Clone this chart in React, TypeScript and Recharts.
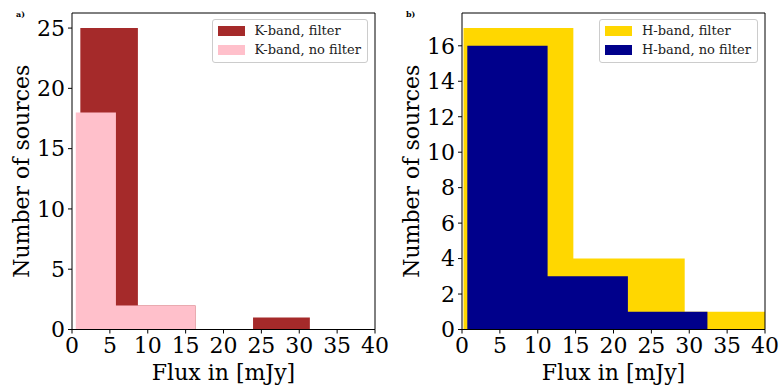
import React from 'react';
import { Area, ComposedChart, Legend, ReferenceLine, XAxis, YAxis } from 'recharts';

// bin edges + counts
const kFilterEdges = [1.1, 8.7, 16.3, 23.9, 31.4];
const kFilterCounts = [25, 2, 0, 1];
const kNoFilterEdges = [0.5, 5.8, 11.1, 16.3];
const kNoFilterCounts = [18, 2, 2];

const hFilterEdges = [0.2, 14.7, 29.4, 44.1];
const hFilterCounts = [17, 4, 1];
const hNoFilterEdges = [0.7, 11.3, 21.9, 32.4];
const hNoFilterCounts = [16, 3, 1];

const xTicks = [0, 5, 10, 15, 20, 25, 30, 35, 40];
const kYTicks = [0, 5, 10, 15, 20, 25];
const hYTicks = [0, 2, 4, 6, 8, 10, 12, 14, 16];

const FONT = '"DejaVu Serif", serif';

type Hist = { key: string; name: string; color: string; edges: number[]; counts: number[] };

const panelA: Hist[] = [
  { key: 'kf', name: 'K-band, filter', color: '#a52a2a', edges: kFilterEdges, counts: kFilterCounts },
  { key: 'kn', name: 'K-band, no filter', color: '#ffc0cb', edges: kNoFilterEdges, counts: kNoFilterCounts },
];
const panelB: Hist[] = [
  { key: 'hf', name: 'H-band, filter', color: '#ffd700', edges: hFilterEdges, counts: hFilterCounts },
  { key: 'hn', name: 'H-band, no filter', color: '#00008b', edges: hNoFilterEdges, counts: hNoFilterCounts },
];

// value of the step function at x
function stepAt(h: Hist, x: number) {
  for (let i = 0; i < h.counts.length; i++) {
    if (x >= h.edges[i] && x < h.edges[i + 1]) return h.counts[i];
  }
  return 0;
}

function buildRows(series: Hist[]) {
  const xs = Array.from(new Set(series.flatMap((s) => s.edges))).sort((a, b) => a - b);
  return xs.map((x) => {
    const row: Record<string, number> = { x };
    series.forEach((s) => (row[s.key] = stepAt(s, x)));
    return row;
  });
}

function LegendBox({ series }: { series: Hist[] }) {
  return (
    <div
      style={{
        background: 'rgba(255,255,255,0.8)',
        border: '1px solid #cccccc',
        borderRadius: 3,
        padding: '1px 6px 3px 5px',
        fontFamily: FONT,
        fontSize: 13,
        color: '#222',
      }}
    >
      {series.map((s) => (
        <div key={s.key} style={{ display: 'flex', alignItems: 'center', height: 19 }}>
          <span style={{ width: 27, height: 10, background: s.color, marginRight: 10 }} />
          <span style={{ whiteSpace: 'nowrap' }}>{s.name}</span>
        </div>
      ))}
    </div>
  );
}

function YLabel(props: any) {
  const vb = props.viewBox;
  const cx = vb.x + 21;
  const cy = vb.y + vb.height / 2;
  return (
    <text
      x={cx}
      y={cy}
      transform={`rotate(-90, ${cx}, ${cy})`}
      textAnchor="middle"
      dominantBaseline="central"
      fontFamily={FONT}
      fontSize={22}
      fill="#000"
    >
      Number of sources
    </text>
  );
}

function Panel({
  series,
  yMax,
  yTicks,
  tag,
  left,
}: {
  series: Hist[];
  yMax: number;
  yTicks: number[];
  tag: string;
  left: number;
}) {
  const rows = buildRows(series);
  const tick = { fontFamily: FONT, fontSize: 22, fill: '#000' };
  return (
    <div style={{ position: 'absolute', left, top: 0, width: 390, height: 385 }}>
      <div
        style={{
          position: 'absolute',
          left: 16,
          top: 9,
          fontFamily: FONT,
          fontSize: 8,
          fontWeight: 'bold',
        }}
      >
        {tag}
      </div>
      <ComposedChart width={390} height={385} data={rows} margin={{ top: 13, right: 15, left: 0, bottom: 0 }}>
        <XAxis
          dataKey="x"
          type="number"
          domain={[0, 40]}
          ticks={xTicks}
          allowDataOverflow
          height={55.5}
          stroke="#000"
          tickSize={4}
          tickMargin={4}
          tick={tick}
          label={{
            value: 'Flux in [mJy]',
            position: 'insideBottom',
            offset: 5,
            fontFamily: FONT,
            fontSize: 22,
            fill: '#000',
          }}
        />
        <YAxis
          type="number"
          domain={[0, yMax]}
          ticks={yTicks}
          allowDataOverflow
          width={72}
          stroke="#000"
          tickSize={4}
          tickMargin={3}
          tick={tick}
          label={<YLabel />}
        />
        {series.map((s) => (
          <Area
            key={s.key}
            dataKey={s.key}
            name={s.name}
            type="stepAfter"
            stroke="none"
            fill={s.color}
            fillOpacity={1}
            isAnimationActive={false}
          />
        ))}
        <ReferenceLine y={yMax} stroke="#000" />
        <ReferenceLine x={40} stroke="#000" />
        <Legend
          layout="vertical"
          align="center"
          verticalAlign="middle"
          wrapperStyle={{ top: 19, right: 22, left: 'auto', width: 'auto' }}
          content={() => <LegendBox series={series} />}
        />
      </ComposedChart>
    </div>
  );
}

export default function App() {
  return (
    <div style={{ position: 'absolute', left: 0, top: 0, width: 779, height: 385, background: '#fff' }}>
      <Panel series={panelA} yMax={26.25} yTicks={kYTicks} tag="a)" left={0} />
      <Panel series={panelB} yMax={17.85} yTicks={hYTicks} tag="b)" left={390} />
    </div>
  );
}
